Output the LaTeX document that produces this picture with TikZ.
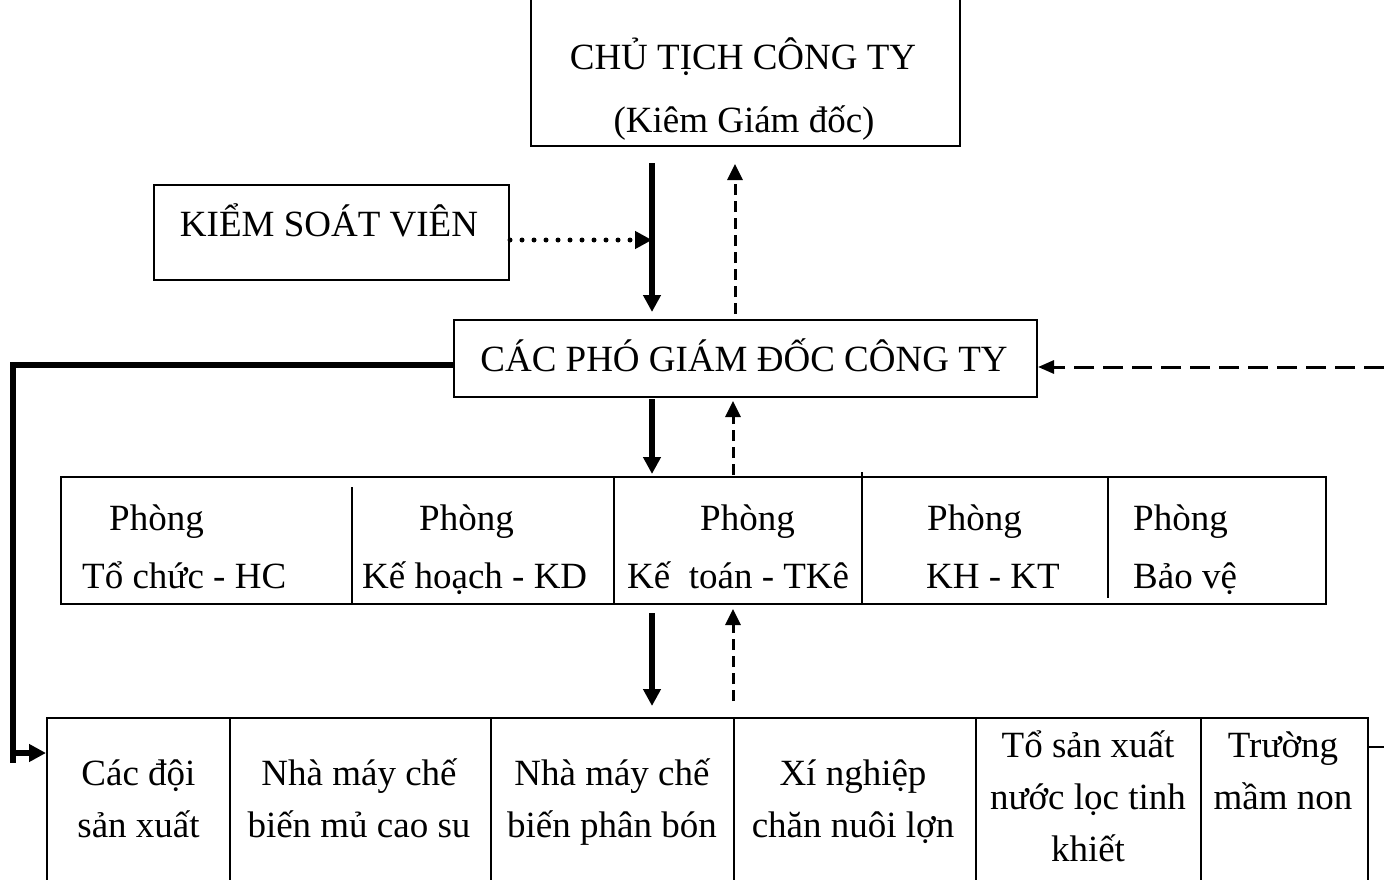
\documentclass[tikz,border=0pt]{standalone}
\usepackage{fontspec}
\setmainfont{Liberation Serif}
\usetikzlibrary{arrows.meta}

\begin{document}
\begin{tikzpicture}[
  x=1pt, y=-1pt,
  font=\fontsize{37}{52}\selectfont,
  box/.style={draw, line width=2pt, inner sep=0pt},
  txt/.style={inner sep=0pt, align=center},
  boxline/.style={line width=2pt},
  thickline/.style={line width=6pt},
  thickarr/.style={line width=6pt, -{Triangle[length=17pt,width=17pt]}},
  dasharr/.style={line width=3pt, dash pattern=on 11pt off 6pt, -{Triangle[length=16pt,width=15pt]}},
  dotarr/.style={line width=5pt, line cap=round, dash pattern=on 0pt off 12pt, -{Triangle[length=17pt,width=17pt]}},
  longdash/.style={line width=3pt, dash pattern=on 20pt off 9pt, -{Triangle[length=16pt,width=13pt]}}
]
\useasboundingbox (0,0) rectangle (1384,880);

% top levels
\node[box, minimum width=429pt, minimum height=150pt] (ct) at (745.5,71) {};
\node[txt, anchor=base] (ctname) at (743,70) {CHỦ TỊCH CÔNG TY};
\node[txt, anchor=base] (ctsub) at (744,132) {(Kiêm Giám đốc)};
\node[box, minimum width=355pt, minimum height=95pt] (ksv) at (331.5,232.5) {};
\node[txt, anchor=base] (ksvname) at (329,236) {KIỂM SOÁT VIÊN};
\node[box, minimum width=583pt, minimum height=77pt] (cpgd) at (745.5,358.5) {};
\node[txt, anchor=base] (cpgdname) at (744,371) {CÁC PHÓ GIÁM ĐỐC CÔNG TY};

% phong ban
\node[box, minimum width=1265pt, minimum height=127pt] (pr) at (693.5,540.5) {};
\draw[boxline] (352,487) -- (352,604);
\draw[boxline] (614,477) -- (614,604);
\draw[boxline] (862,472) -- (862,604);
\draw[boxline] (1108,477) -- (1108,598);
\node[txt, anchor=base west] (p1a) at (109,530) {Phòng};
\node[txt, anchor=base west] (p1b) at (82,588) {Tổ chức - HC};
\node[txt, anchor=base west] (p2a) at (419,530) {Phòng};
\node[txt, anchor=base west] (p2b) at (362,588) {Kế hoạch - KD};
\node[txt, anchor=base west] (p3a) at (700,530) {Phòng};
\node[txt, anchor=base west] (p3b) at (627,588) {Kế\ \ toán - TKê};
\node[txt, anchor=base west] (p4a) at (927,530) {Phòng};
\node[txt, anchor=base west] (p4b) at (926,588) {KH - KT};
\node[txt, anchor=base west] (p5a) at (1133,530) {Phòng};
\node[txt, anchor=base west] (p5b) at (1133,588) {Bảo vệ};

% don vi truc thuoc (base = last line)
\node[box, minimum width=183pt, minimum height=182pt] (dv1) at (138.5,809) {};
\node[box, minimum width=261pt, minimum height=182pt] (dv2) at (360.5,809) {};
\node[box, minimum width=243pt, minimum height=182pt] (dv3) at (612.5,809) {};
\node[box, minimum width=242pt, minimum height=182pt] (dv4) at (855,809) {};
\node[box, minimum width=225pt, minimum height=182pt] (dv5) at (1088.5,809) {};
\node[box, minimum width=167pt, minimum height=182pt] (dv6) at (1284.5,809) {};
\node[txt, anchor=base] (dv1t) at (138.5,837) {Các đội\\sản xuất};
\node[txt, anchor=base] (dv2t) at (359,837) {Nhà máy chế\\biến mủ cao su};
\node[txt, anchor=base] (dv3t) at (612,837) {Nhà máy chế\\biến phân bón};
\node[txt, anchor=base] (dv4t) at (853,837) {Xí nghiệp\\chăn nuôi lợn};
\node[txt, anchor=base] (dv5t) at (1088,861) {Tổ sản xuất\\nước lọc tinh\\khiết};
\node[txt, anchor=base] (dv6t) at (1283,809) {Trường\\mầm non};

% connectors
\coordinate (dnx) at (652,0);
\coordinate (upx) at (735,0);
\coordinate (upy) at (733,0);
\draw[thickarr, shorten <=16pt, shorten >=7pt] (ct.south -| dnx) -- (cpgd.north -| dnx);
\draw[dasharr, shorten <=5pt, shorten >=17pt] (cpgd.north -| upx) -- (ct.south -| upx);
\draw[dotarr] ([yshift=-7.5pt]ksv.east) -- ([yshift=-7.5pt]ksv.east -| dnx);
\draw[thickarr, shorten <=1pt, shorten >=2pt] (cpgd.south -| dnx) -- (pr.north -| dnx);
\draw[dasharr, shorten <=1pt, shorten >=3pt] (pr.north -| upy) -- (cpgd.south -| upy);
\draw[thickarr, shorten <=8pt, shorten >=11pt] (pr.south -| dnx) -- (dv3.north -| dnx);
\draw[dasharr, shorten <=16pt, shorten >=4pt] (dv4.north -| upy) -- (pr.south -| upy);

\coordinate (rt) at (1384,367);
\draw[longdash] (rt) -- (rt -| cpgd.east);
\coordinate (rb) at (1384,747);
\draw[boxline] (rb) -- (rb -| dv6.east);

\coordinate (lbot) at (13,763);
\coordinate (lj) at (16,753);
\draw[thickline] ([yshift=-6.5pt]cpgd.west) -| (lbot);
\draw[thickarr] (lj) -- (lj -| dv1.west);
\end{tikzpicture}
\end{document}
